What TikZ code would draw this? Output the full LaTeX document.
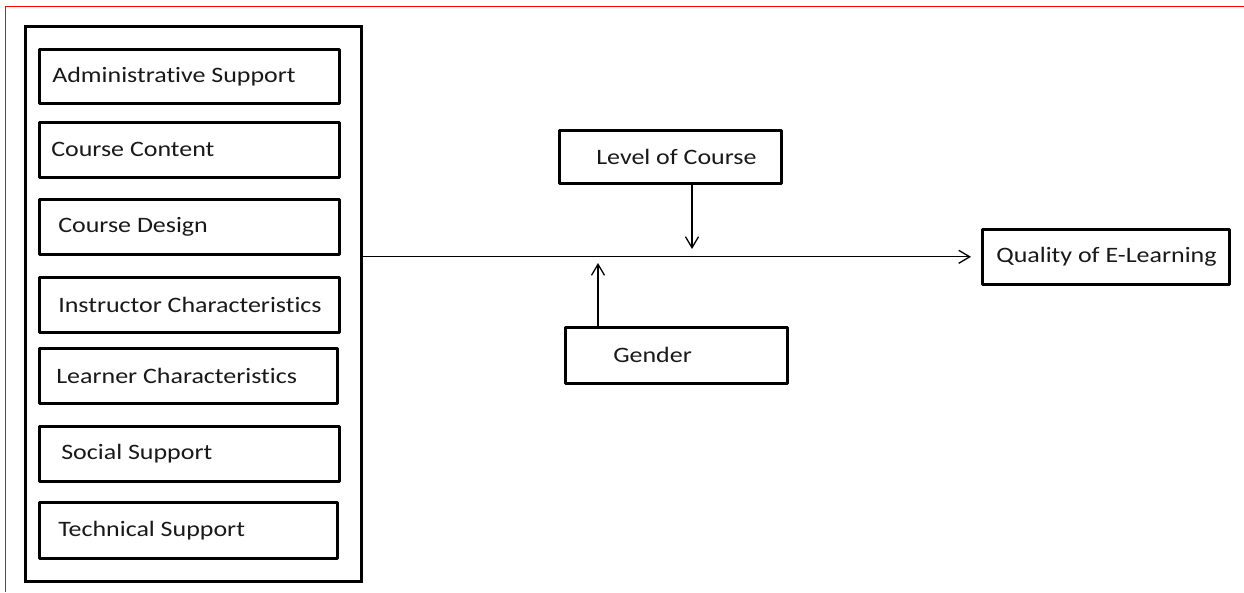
\documentclass[tikz,border=0pt]{standalone}
\usepackage{fontspec}
\setmainfont{Carlito}[FakeStretch=1.18, Ligatures={NoCommon}]
\usetikzlibrary{arrows.meta}
\tikzset{
  bx/.style={draw, line width=2.6pt, anchor=north west, inner ysep=0pt, line join=round,
             font=\fontsize{22}{24}\selectfont, text=black!90},
  conn/.style={line width=1.3pt, -{Straight Barb[length=11pt,width=13pt,line width=1.3pt]}},
}
% name, x, y, W, H, xsep, textwidth, text
\newcommand\mkbx[8]{\node[bx, minimum width=#4pt, minimum height=#5pt, inner xsep=#6pt] (#1) at (#2,#3) {\makebox[#7pt][l]{#8}};}
\begin{document}
\begin{tikzpicture}[x=1pt,y=-1pt]
\useasboundingbox (0,0) rectangle (1244,592);
\fill[white] (0,0) rectangle (1244,592);
\draw[red, line width=1.4pt] (1244,6.5) -- (5.5,6.5) -- (5.5,592);
% outer group
\node[draw, line width=3pt, anchor=north west, minimum width=336pt, minimum height=555pt, inner sep=0pt] (group) at (23.5,24.5) {};
\mkbx{b1}{38}{48}{300}{54}{13}{274}{Administrative Support}
\mkbx{b2}{38}{121}{300}{55}{12}{276}{Course Content}
\mkbx{b3}{38}{198}{300}{55}{19}{262}{Course Design}
\mkbx{b4}{38}{276}{300}{55}{19}{262}{Instructor Characteristics}
\mkbx{b5}{38}{347}{298}{55}{17}{264}{Learner Characteristics}
\mkbx{b6}{38}{425}{300}{55}{22}{256}{Social Support}
\mkbx{b7}{38}{501}{298}{56}{19}{260}{Technical Support}
\mkbx{level}{558}{129}{222}{53}{37}{148}{Level of Course}
\mkbx{gender}{564}{326}{222}{56}{48}{126}{Gender}
\mkbx{quality}{981}{228}{247}{55}{14}{219}{Quality of E-Learning}
% connectors
\coordinate (lvltip) at (692,249);
\coordinate (gtip) at (598,263);
\draw[conn, shorten >=10pt] (group.east |- quality.west) -- (quality.west);
\draw[conn] (level.south -| lvltip) -- (lvltip);
\draw[conn] (gender.north -| gtip) -- (gtip);
\end{tikzpicture}
\end{document}
